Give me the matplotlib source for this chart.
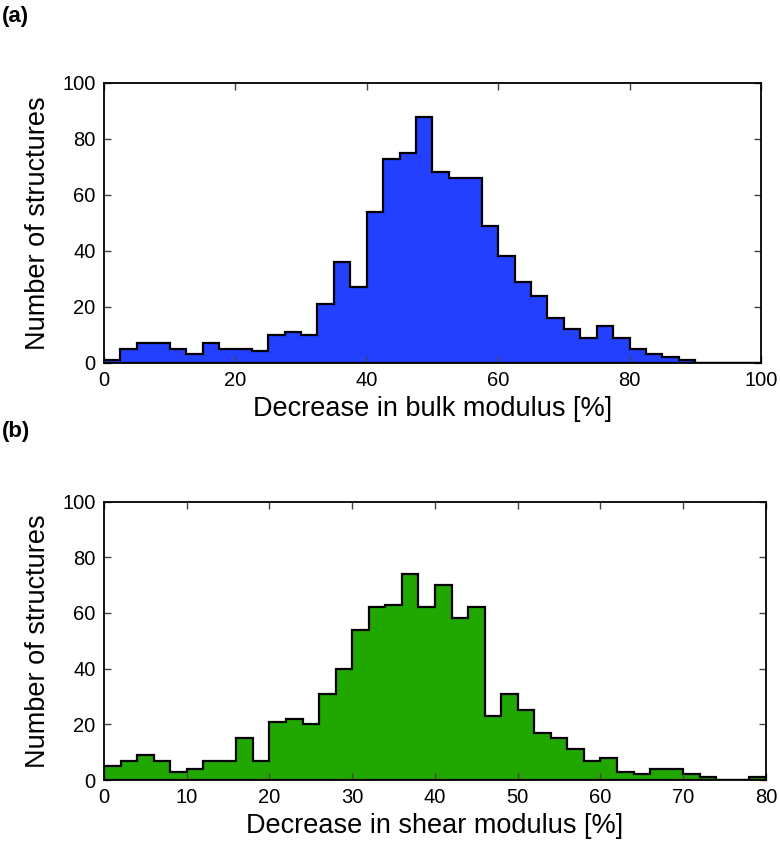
import numpy as np
import matplotlib
matplotlib.use("Agg")
import matplotlib.pyplot as plt

plt.rcParams['font.family'] = ['Liberation Sans', 'DejaVu Sans']

# Panel (a): decrease in bulk modulus, bins of 2.5 %
bulk_edges = np.arange(0, 100.01, 2.5)
bulk_counts = [1, 5, 7, 7, 5, 3, 7, 5, 5, 4,
               10, 11, 10, 21, 36, 27, 54, 73, 75, 88,
               68, 66, 66, 49, 38, 29, 24, 16, 12, 9,
               13, 9, 5, 3, 2, 1, 0, 0, 0, 0]

# Panel (b): decrease in shear modulus, bins of 2 %
shear_edges = np.arange(0, 80.01, 2)
shear_counts = [5, 7, 9, 7, 3, 4, 7, 7, 15, 7,
                21, 22, 20, 31, 40, 54, 62, 63, 74, 62,
                70, 58, 62, 23, 31, 25, 17, 15, 11, 7,
                8, 3, 2, 4, 4, 2, 1, 0, 0, 1]

bulk_ticks = [0, 20, 40, 60, 80, 100]
shear_ticks = [0, 10, 20, 30, 40, 50, 60, 70, 80]
y_ticks = [0, 20, 40, 60, 80, 100]

fig = plt.figure(figsize=(7.8, 8.46), dpi=100)
ax1 = fig.add_axes([0.1333, 0.5713, 0.8423, 0.3306])
ax2 = fig.add_axes([0.1333, 0.0780, 0.8487, 0.3292])

def style(ax, xticks, xmax, xlabel, color, edges, counts):
    ax.hist(edges[:-1], bins=edges, weights=counts, histtype='stepfilled',
            facecolor=color, edgecolor='black', linewidth=1.6)
    ax.set_xlim(0, xmax)
    ax.set_ylim(0, 100)
    ax.set_xticks(xticks)
    ax.set_yticks(y_ticks)
    ax.tick_params(direction='in', top=True, right=True, length=5, width=1,
                   labelsize=14.5, pad=6, color='#444444')
    ax.set_xlabel(xlabel, fontsize=19.5, labelpad=4)
    ax.set_ylabel('Number of structures', fontsize=19.5, labelpad=8)
    for s in ax.spines.values():
        s.set_linewidth(1.3)

style(ax1, bulk_ticks, 100, 'Decrease in bulk modulus [%]', '#2440FF',
      bulk_edges, bulk_counts)
style(ax2, shear_ticks, 80, 'Decrease in shear modulus [%]', '#20A800',
      shear_edges, shear_counts)

fig.text(0.003, 0.993, '(a)', fontsize=16, fontweight='bold', va='top', ha='left')
fig.text(0.003, 0.502, '(b)', fontsize=16, fontweight='bold', va='top', ha='left')

fig.savefig('out.png', dpi=100)
